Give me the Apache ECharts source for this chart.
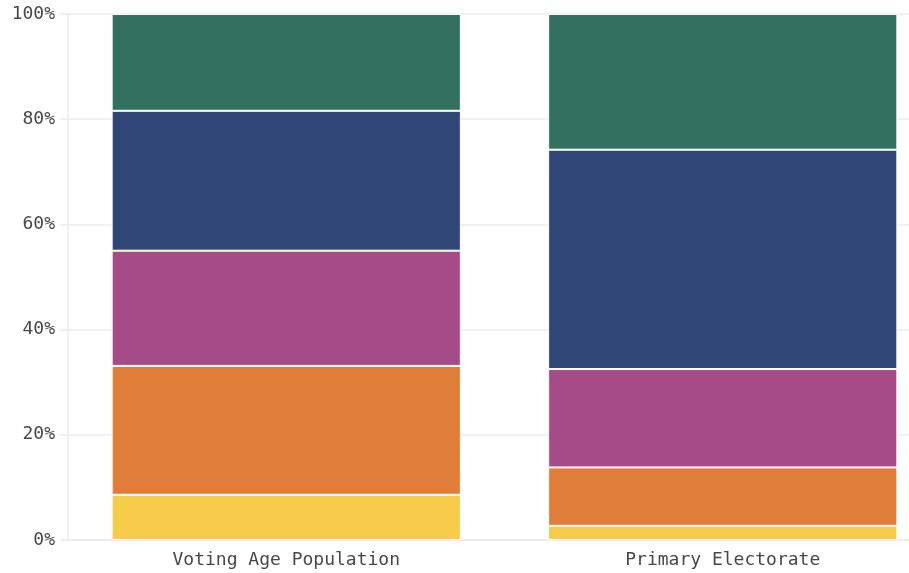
<!DOCTYPE html>
<html>
<head>
<meta charset="utf-8">
<script src="https://cdn.jsdelivr.net/npm/echarts@6/dist/echarts.min.js"></script>
<style>
  html, body { margin: 0; padding: 0; background: #fff; }
  #chart { width: 909px; height: 573px; }
</style>
</head>
<body>
<div id="chart"></div>
<script>
// categories and tick labels
const categories = ['Voting Age Population', 'Primary Electorate'];
const yTicks = [0, 20, 40, 60, 80, 100];

// shares (%) per group, bottom to top of each bar
const group1 = [8.6, 2.7];   // yellow
const group2 = [24.5, 11.1]; // orange
const group3 = [21.9, 18.7]; // purple
const group4 = [26.6, 41.7]; // blue
const group5 = [18.4, 25.8]; // green

const groups = [
  { name: 'Group 1', data: group1, color: '#f6cb4a' },
  { name: 'Group 2', data: group2, color: '#e07d39' },
  { name: 'Group 3', data: group3, color: '#a54c88' },
  { name: 'Group 4', data: group4, color: '#2f4677' },
  { name: 'Group 5', data: group5, color: '#33705f' }
];

const labelFont = {
  fontFamily: '"DejaVu Sans Mono", monospace',
  fontSize: 18,
  color: '#484848'
};

const chart = echarts.init(document.getElementById('chart'));

chart.setOption({
  animation: false,
  // plot runs past the right edge, the second bar band is cut off
  grid: { left: 68, width: 873, top: 14, bottom: 33, outerBoundsMode: 'none' },
  xAxis: {
    type: 'category',
    data: categories,
    axisLine: { lineStyle: { color: '#ebebeb', width: 1.5 } },
    axisTick: { alignWithLabel: true, length: 7, lineStyle: { color: '#e3e3e3' } },
    axisLabel: { ...labelFont, margin: 11 }
  },
  yAxis: {
    type: 'value',
    min: 0,
    max: 100,
    interval: 20,
    axisLine: { show: true, lineStyle: { color: '#ebebeb', width: 1.5 } },
    axisTick: { show: true, length: 8, lineStyle: { color: '#ebebeb', width: 1.5 } },
    splitLine: { lineStyle: { color: '#ededed', width: 1.5 } },
    axisLabel: {
      ...labelFont,
      margin: 13,
      formatter: v => yTicks.includes(v) ? v + '%' : ''
    }
  },
  series: groups.map(g => ({
    name: g.name,
    type: 'bar',
    stack: 'total',
    barWidth: '80%',
    data: g.data,
    itemStyle: { color: g.color, borderColor: '#fff', borderWidth: 1 }
  }))
});
</script>
</body>
</html>
